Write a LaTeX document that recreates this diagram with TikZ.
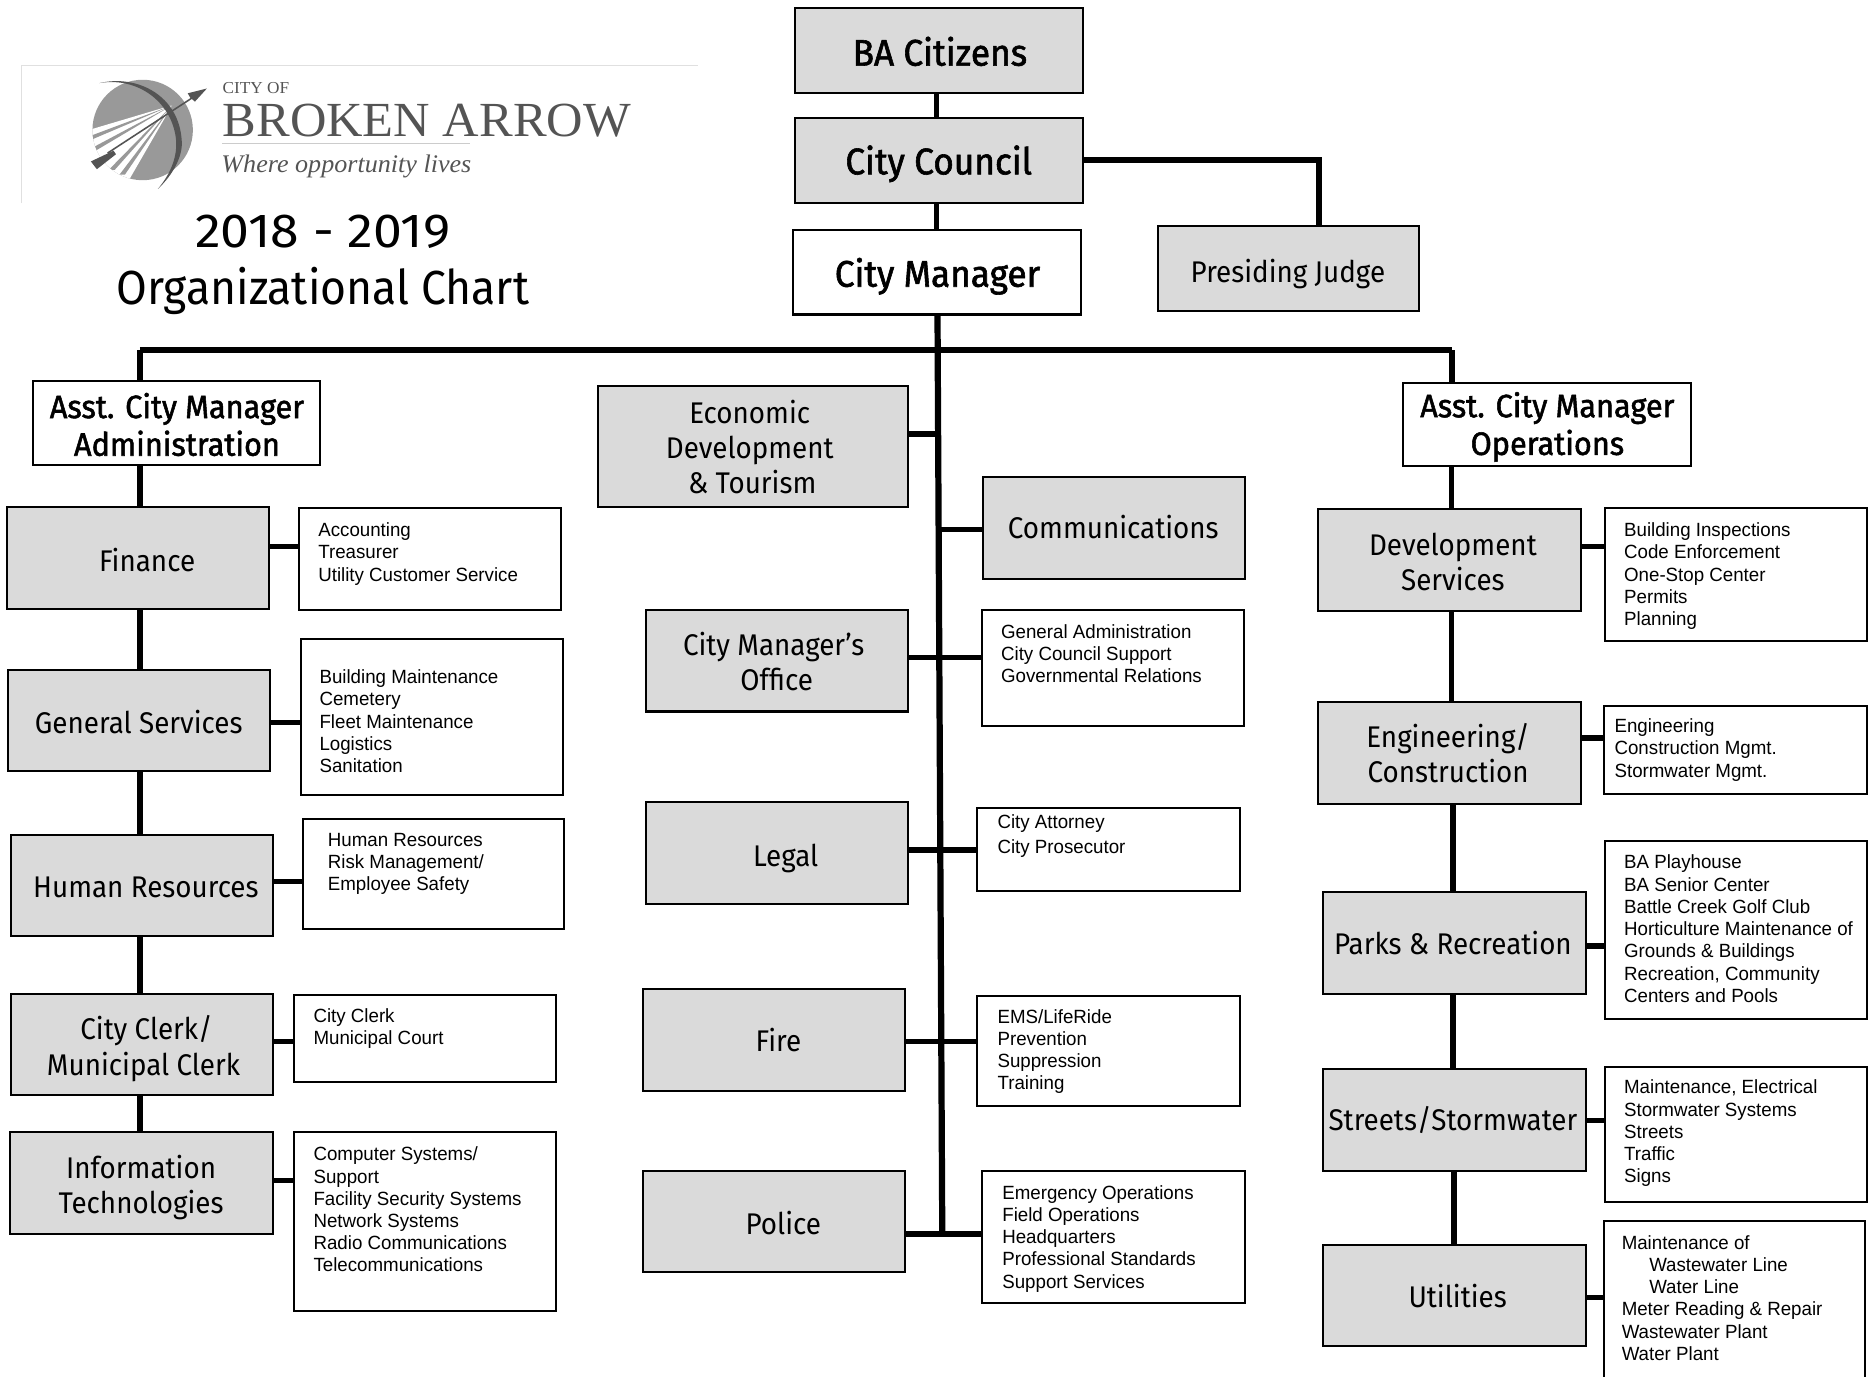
\documentclass[tikz,border=0pt]{standalone}
\usepackage{fontspec}
\setmainfont[FakeStretch=0.978]{Liberation Sans}
\newfontfamily\headf[FakeStretch=0.93]{Fira Sans}
\newfontfamily\headw[FakeStretch=1.082]{Fira Sans}
\newfontfamily\headb[FakeStretch=0.95,FakeBold=1.6]{Fira Sans}
\newfontfamily\logof[FakeStretch=1.03]{Liberation Serif}
\usetikzlibrary{calc}
\definecolor{boxgray}{gray}{0.855}
\definecolor{logogray}{gray}{0.6}
\definecolor{logodark}{gray}{0.33}
\tikzset{
  base box/.style={draw=black,line width=1.7pt,inner sep=0pt,outer sep=0pt,anchor=center},
  graybox/.style={base box,fill=boxgray},
  whitebox/.style={base box,fill=white},
  head/.style={inner sep=0pt,align=center,font=\headf\fontsize{25}{29.5}\selectfont},
  headbold/.style={inner sep=0pt,align=center,font=\headb\fontsize{31}{31}\selectfont},
  listtext/.style={inner sep=0pt,anchor=north west,align=left,font=\fontsize{16}{18.6}\selectfont},
  link/.style={line width=4.6pt,line cap=butt},
  bar/.style={line width=5.2pt,line cap=square}
}
% \bx{name}{x1}{y1}{x2}{y2}{style}
\newcommand{\bx}[6]{%
  \pgfmathsetmacro{\wdd}{#4-#2}\pgfmathsetmacro{\htt}{#5-#3}%
  \pgfmathsetmacro{\cxx}{(#4+#2)/2}\pgfmathsetmacro{\cyy}{(#5+#3)/2}%
  \node[#6,minimum width=\wdd pt,minimum height=\htt pt] (#1) at (\cxx,\cyy) {};}
% \lst{name}{x}{y of centre of first line}{text}
\newcommand{\lst}[4]{%
  \pgfmathsetmacro{\yy}{#3-6.5}%
  \node[listtext] (#1) at (#2,\yy) {\rule{0pt}{12pt}#4};}
\begin{document}
\begin{tikzpicture}[x=1pt,y=-1pt]
\useasboundingbox (0,0) rectangle (1568,1151);
% logo frame
\draw[line width=0.8pt,black!12] (18,170) -- (18,55) -- (584,55);
% logo mark
\fill[logogray] (119.3,108.7) circle[x radius=42,y radius=42];
\begin{scope}
\clip (119.3,108.7) circle[x radius=42,y radius=42];
\coordinate (apex) at (144,88);
\fill[white] (apex) -- (70,110) -- (70,150) -- (107,152) -- cycle;
\fill[logogray] (apex) -- (76,113.5) -- (76,117) -- cycle;
\fill[logogray] (apex) -- (79,122.6) -- (80,126) -- cycle;
\fill[logogray] (apex) -- (91,142) -- (96,142) -- cycle;
\fill[logogray] (apex) -- (100,146) -- (104.5,146) -- cycle;
\end{scope}
\fill[logodark] (83,69.5) .. controls (115,62) and (150,80) .. (152,118)
   .. controls (153,130) and (145,146) .. (132,158)
   .. controls (143,145) and (149,130) .. (147,115)
   .. controls (143,85) and (115,64) .. (83,69.5) -- cycle;
\draw[logodark,line width=1.3pt] (90,128) -- (162,81);
\fill[logodark] (173,74) -- (157,78) -- (159,81.5) -- (163,85) -- cycle;
\fill[logodark] (76,135) -- (95,126) -- (97,129) -- (81,141.5) -- cycle;
\node[inner sep=0pt,anchor=base west,text=logodark,font=\logof\fontsize{14}{14}\selectfont] (cityof) at (186,78) {CITY OF};
\node[inner sep=0pt,anchor=base west,text=logodark,font=\logof\fontsize{41}{42}\selectfont] (brokenarrow) at (186,114) {BROKEN ARROW};
\draw[line width=1pt,black!20] (186,120) -- (393,120);
\node[inner sep=0pt,anchor=base west,text=logodark,font=\logof\itshape\fontsize{21.2}{22}\selectfont] (motto) at (185,144) {Where opportunity lives};
% title
\node[inner sep=0pt,align=center,font=\headf\fontsize{40}{48}\selectfont] (title) at (270,221.5) {{\headw 2018 - 2019}\\Organizational Chart};
% boxes
\bx{cit}{665}{7}{906}{78}{graybox}
\bx{coun}{665}{99}{906}{170}{graybox}
\bx{mgr}{663}{192}{904}{263}{whitebox}
\bx{judge}{968}{189}{1187}{260}{graybox}
\bx{aadm}{28}{319}{268}{389}{whitebox}
\bx{aops}{1173}{320}{1414}{390}{whitebox}
\bx{econ}{500}{323}{759}{424}{graybox}
\bx{comm}{822}{399}{1041}{484}{graybox}
\bx{cmo}{540}{510}{759}{595}{graybox}
\bx{cmoL}{821}{510}{1040}{607}{whitebox}
\bx{legal}{540}{671}{759}{756}{graybox}
\bx{legalL}{817}{676}{1037}{745}{whitebox}
\bx{fire}{538}{827}{757}{912}{graybox}
\bx{fireL}{817}{833}{1037}{925}{whitebox}
\bx{pol}{538}{979}{757}{1064}{graybox}
\bx{polL}{821}{979}{1041}{1090}{whitebox}
\bx{fin}{6}{424}{225}{509}{graybox}
\bx{finL}{250}{425}{469}{510}{whitebox}
\bx{gen}{7}{560}{226}{645}{graybox}
\bx{genL}{252}{534}{471}{665}{whitebox}
\bx{hr}{9}{698}{228}{783}{graybox}
\bx{hrL}{253}{685}{472}{777}{whitebox}
\bx{clk}{9}{831}{228}{916}{graybox}
\bx{clkL}{246}{832}{465}{905}{whitebox}
\bx{it}{8}{947}{228}{1032}{graybox}
\bx{itL}{246}{947}{465}{1096}{whitebox}
\bx{dev}{1102}{426}{1322}{511}{graybox}
\bx{devL}{1342}{425}{1561}{536}{whitebox}
\bx{eng}{1102}{587}{1322}{672}{graybox}
\bx{engL}{1341}{590}{1561}{664}{whitebox}
\bx{prk}{1106}{746}{1326}{831}{graybox}
\bx{prkL}{1342}{703}{1561}{852}{whitebox}
\bx{str}{1106}{894}{1326}{979}{graybox}
\bx{strL}{1342}{892}{1561}{1005}{whitebox}
\bx{utl}{1106}{1041}{1326}{1126}{graybox}
\bx{utlL}{1341}{1021}{1560}{1160}{whitebox}
% heading texts
\node[headbold] (tcit) at (786,43) {BA Citizens};
\node[headbold] (tcoun) at (785,137) {City Council};
\node[headbold] (tmgr) at (784,231) {City Manager};
\node[head] (tjudge) at (1077,229) {Presiding Judge};
\node[headbold,font=\headb\fontsize{27}{31.5}\selectfont] (taadm) at (148,355) {Asst. City Manager\\Administration};
\node[headbold,font=\headb\fontsize{27}{31.5}\selectfont] (taops) at (1294,357) {Asst. City Manager\\Operations};
\node[head] (tecon) at (627,374) {Economic\\Development\\\hspace*{4pt}\&\ Tourism};
\node[head] (tcomm) at (931,441) {Communications};
\node[head] (tcmo) at (647,553) {City Manager’s\\\hspace*{5pt}Office};
\node[head] (tlegal) at (657,718) {Legal};
\node[head] (tfire) at (651,870) {Fire};
\node[head] (tpol) at (655,1023) {Police};
\node[head] (tfin) at (123,468) {Finance};
\node[head] (tgen) at (116,604) {General Services};
\node[head] (thr) at (122,742) {Human Resources};
\node[head] (tclk) at (120,877) {\hspace*{5pt}City Clerk/\\Municipal Clerk};
\node[head] (tit) at (118,993) {Information\\Technologies};
\node[head] (tdev) at (1215,470) {Development\\Services};
\node[head] (teng) at (1211,630) {Engineering/\\Construction};
\node[head] (tprk) at (1215,789) {Parks \& Recreation};
\node[head] (tstr) at (1215,937) {Streets/Stormwater};
\node[head] (tutl) at (1219,1084) {Utilities};
% lists
\lst{lfin}{266}{443}{Accounting\\Treasurer\\Utility Customer Service}
\lst{lgen}{267}{566}{Building Maintenance\\Cemetery\\Fleet Maintenance\\Logistics\\Sanitation}
\lst{lhr}{274}{702}{Human Resources\\Risk Management/\\Employee Safety}
\lst{lclk}{262}{849}{City Clerk\\Municipal Court}
\lst{lit}{262}{965}{Computer Systems/\\Support\\Facility Security Systems\\Network Systems\\Radio Communications\\Telecommunications}
\lst{lcmo}{837}{528}{General Administration\\City Council Support\\Governmental Relations}
\lst{llegal}{834}{687}{City Attorney\\[2.4pt]City Prosecutor}
\lst{lfire}{834}{850}{EMS/LifeRide\\Prevention\\Suppression\\Training}
\lst{lpol}{838}{997}{Emergency Operations\\Field Operations\\Headquarters\\Professional Standards\\Support Services}
\lst{ldev}{1358}{443}{Building Inspections\\Code Enforcement\\One-Stop Center\\Permits\\Planning}
\lst{leng}{1350}{607}{Engineering\\Construction Mgmt.\\Stormwater Mgmt.}
\lst{lprk}{1358}{721}{BA Playhouse\\BA Senior Center\\Battle Creek Golf Club\\Horticulture Maintenance of\\Grounds \& Buildings\\Recreation, Community\\Centers and Pools}
\lst{lstr}{1358}{909}{Maintenance, Electrical\\Stormwater Systems\\Streets\\Traffic\\Signs}
\lst{lutl}{1356}{1039}{Maintenance of\\\hspace*{23pt}Wastewater Line\\\hspace*{23pt}Water Line\\Meter Reading \& Repair\\Wastewater Plant\\Water Plant}
% coordinates of the bar
\coordinate (barL) at (117,293);
\coordinate (barM) at (784,293);
\coordinate (barR) at (1214,293);
\coordinate (spineEnd) at (788,1034);
% connectors
\draw[link] (cit.south -| 783,0) -- (coun.north -| 783,0);
\draw[link] (coun.south -| 783,0) -- (mgr.north -| 783,0);
\draw[link] (coun.east |- 0,134) -- (1103,134) -- (judge.north -| 1103,0);
\draw[bar] (barL) -- (barR);
\draw[bar] (barL) -- (aadm.north -| barL);
\draw[bar] (barR) -- (aops.north -| barR);
\draw[bar] (mgr.south -| 784,0) -- (spineEnd);
% left column
\draw[link] (aadm.south -| 117,0) -- (fin.north -| 117,0);
\draw[link] (fin.south -| 117,0) -- (gen.north -| 117,0);
\draw[link] (gen.south -| 117,0) -- (hr.north -| 117,0);
\draw[link] (hr.south -| 117,0) -- (clk.north -| 117,0);
\draw[link] (clk.south -| 117,0) -- (it.north -| 117,0);
\draw[link] (fin.east |- 0,457) -- (finL.west |- 0,457);
\draw[link] (gen.east |- 0,604) -- (genL.west |- 0,604);
\draw[link] (hr.east |- 0,737) -- (hrL.west |- 0,737);
\draw[link] (clk.east |- 0,871) -- (clkL.west |- 0,871);
\draw[link] (it.east |- 0,987) -- (itL.west |- 0,987);
% right column
\draw[link] (aops.south -| 1214,0) -- (dev.north -| 1214,0);
\draw[link] (dev.south -| 1214,0) -- (eng.north -| 1214,0);
\draw[link] (eng.south -| 1215,0) -- (prk.north -| 1215,0);
\draw[link] (prk.south -| 1215,0) -- (str.north -| 1215,0);
\draw[link] (str.south -| 1216,0) -- (utl.north -| 1216,0);
\draw[link] (dev.east |- 0,457) -- (devL.west |- 0,457);
\draw[link] (eng.east |- 0,617) -- (engL.west |- 0,617);
\draw[link] (prk.east |- 0,791) -- (prkL.west |- 0,791);
\draw[link] (str.east |- 0,937) -- (strL.west |- 0,937);
\draw[link] (utl.east |- 0,1085) -- (utlL.west |- 0,1085);
% centre column
\draw[link] (econ.east |- 0,363) -- (785,363);
\draw[link] (785,443) -- (comm.west |- 0,443);
\draw[link] (cmo.east |- 0,550) -- (cmoL.west |- 0,550);
\draw[link] (legal.east |- 0,711) -- (legalL.west |- 0,711);
\draw[link] (fire.east |- 0,871) -- (fireL.west |- 0,871);
\draw[link] (pol.east |- 0,1032) -- (polL.west |- 0,1032);
\end{tikzpicture}
\end{document}
